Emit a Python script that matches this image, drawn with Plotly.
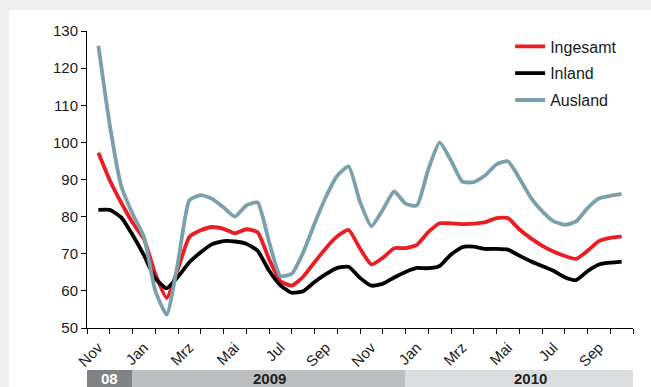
import pandas as pd
import plotly.graph_objects as go

# Half-monthly observations, Nov 2008 - Oct 2010
dates = pd.date_range("2008-11-01", "2010-10-01", freq="SMS")

ingesamt = [97.2, 89.8, 83.8, 78.4, 74.0, 64.6, 58.1, 66.0, 74.5, 76.3,
            77.2, 76.7, 75.5, 76.6, 75.8, 68.6, 62.6, 61.4, 63.8, 67.7,
            71.5, 74.7, 76.4, 71.4, 67.1, 68.9, 71.5, 71.5, 72.4, 75.8,
            78.2, 78.2, 78.0, 78.1, 78.5, 79.6, 79.6, 76.6, 74.2, 72.2,
            70.6, 69.4, 68.6, 70.8, 73.4, 74.3, 74.6]
inland = [81.8, 81.8, 79.8, 75.1, 69.6, 63.4, 60.7, 63.8, 67.7, 70.4,
          72.6, 73.4, 73.3, 72.7, 70.8, 65.5, 61.5, 59.5, 59.9, 62.4,
          64.5, 66.2, 66.5, 63.5, 61.4, 61.9, 63.6, 65.1, 66.2, 66.1,
          66.7, 69.8, 71.8, 71.9, 71.3, 71.3, 71.1, 69.5, 68.0, 66.7,
          65.4, 63.7, 62.9, 65.3, 67.1, 67.6, 67.9]
ausland = [126.0, 104.7, 88.3, 80.8, 74.6, 60.1, 53.6, 67.7, 84.4, 85.8,
           84.8, 82.5, 80.0, 83.0, 83.8, 73.3, 64.0, 64.6, 70.3, 78.1,
           85.3, 91.0, 93.5, 84.0, 77.4, 81.8, 86.8, 83.5, 83.0, 92.7,
           100.0, 95.1, 89.4, 89.3, 91.1, 94.1, 94.9, 90.4, 85.2, 81.5,
           78.8, 77.8, 78.7, 82.3, 84.9, 85.6, 86.1]

month_names = ["Nov", "Dez", "Jan", "Feb", "Mrz", "Apr", "Mai", "Jun",
               "Jul", "Aug", "Sep", "Okt", "Nov", "Dez", "Jan", "Feb",
               "Mrz", "Apr", "Mai", "Jun", "Jul", "Aug", "Sep", "Okt"]
year_labels = ["08", "2009", "2010"]
year_months = [2, 12, 10]          # months covered by each year band

series = [("Ingesamt", ingesamt, "#ec1c24"),
          ("Inland", inland, "#000000"),
          ("Ausland", ausland, "#7aa1ab")]

# month position on a category-style axis (Nov 2008 = 0)
start = dates[0]
xpos = [(d.year - start.year) * 12 + (d.month - start.month) + (d.day - 1) / 28
        for d in dates]

FONT = "Arial, Liberation Sans, sans-serif"

fig = go.Figure()
for i, (name, vals, col) in enumerate(series):
    fig.add_trace(go.Scatter(
        x=xpos, y=vals, name=name, mode="lines",
        line=dict(color=col, width=3.8, shape="spline", smoothing=0.5),
        legendgroup=str(i),
    ))

n_months = len(month_names)
fig.update_xaxes(
    range=[-0.5, n_months - 0.5],
    tickvals=list(range(0, n_months, 2)),
    ticktext=month_names[::2],
    tickangle=-45,
    ticks="",
    ticklabelstandoff=4,
    showline=True, linecolor="black", linewidth=1,
    showgrid=False, zeroline=False,
    tickfont=dict(family=FONT, size=15, color="#1a1a1a"),
    minor=dict(tickvals=[k - 0.5 for k in range(n_months + 1)],
               ticks="outside", ticklen=5, tickcolor="black", tickwidth=1,
               showgrid=False),
)
fig.update_yaxes(
    range=[50, 130], dtick=10,
    ticks="outside", ticklen=5, tickcolor="black",
    showline=True, linecolor="black", linewidth=1,
    showgrid=False, zeroline=False,
    tickfont=dict(family=FONT, size=15, color="#1a1a1a"),
)

shapes = [dict(type="rect", xref="paper", yref="paper",
               x0=-0.143, x1=1.04, y0=-0.2, y1=1.07,
               fillcolor="white", line=dict(width=0), layer="below")]

# year band under the month labels
band_fill = ["#818285", "#bcbec0", "#dcdddf"]
band_text = ["white", "#231f20", "#231f20"]
band_text_pos = [0.5, 7.5, 19.0]
x0 = -0.5
for lab, n, fc, tc, tx in zip(year_labels, year_months, band_fill,
                              band_text, band_text_pos):
    shapes.append(dict(type="rect", xref="x", yref="paper",
                       x0=x0, x1=x0 + n, y0=-0.25, y1=-0.1414,
                       fillcolor=fc, line=dict(width=0)))
    fig.add_annotation(x=tx, xref="x", y=-0.171, yref="paper",
                       text="<b>%s</b>" % lab, showarrow=False,
                       yanchor="middle",
                       font=dict(family=FONT, size=15, color=tc))
    x0 += n

fig.update_layout(
    width=651, height=387, autosize=False,
    margin=dict(l=87, r=18, t=31, b=59),
    paper_bgcolor="#eef0f2", plot_bgcolor="white",
    shapes=shapes,
    showlegend=True,
    legend=dict(x=0.775, y=1.005, xanchor="left", yanchor="top",
                bgcolor="rgba(0,0,0,0)", traceorder="grouped",
                tracegroupgap=3,
                font=dict(family=FONT, size=16, color="#1a1a1a")),
)

fig.write_html("out.html")
